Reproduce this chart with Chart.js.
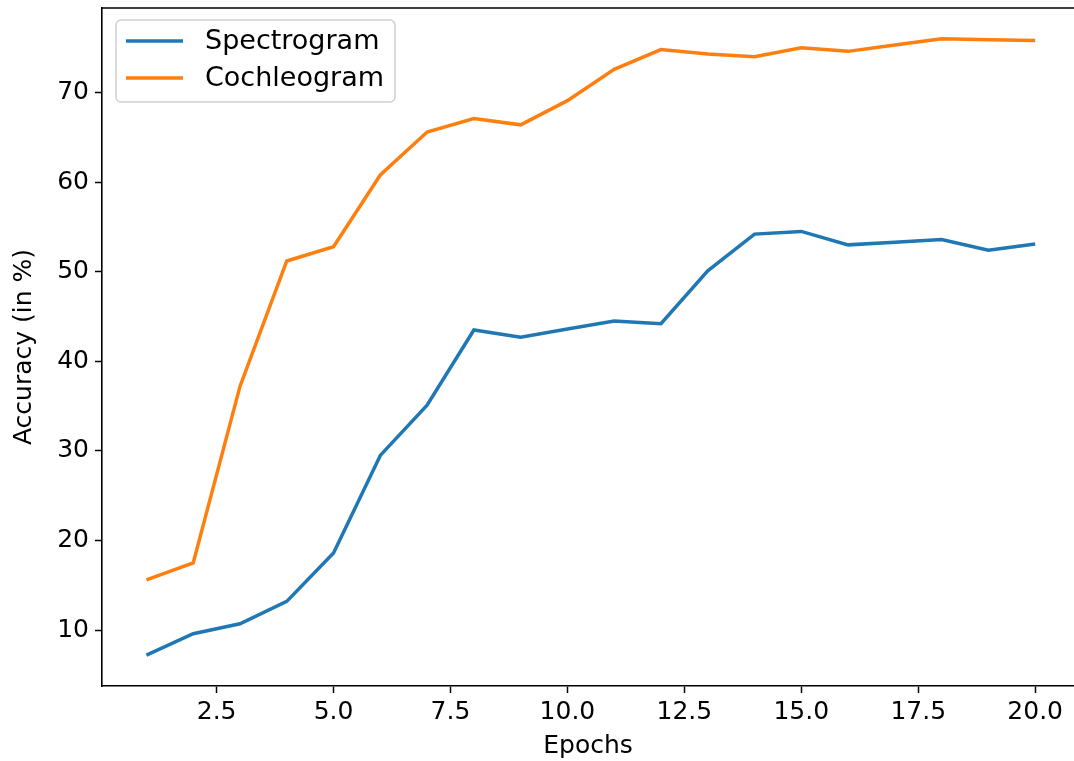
<!DOCTYPE html>
<html>
<head>
<meta charset="utf-8">
<script src="https://cdn.jsdelivr.net/npm/chart.js@4.4.1/dist/chart.umd.min.js"></script>
<style>
  html, body { margin: 0; padding: 0; background: #fff; overflow: hidden; }
</style>
</head>
<body>
<canvas id="accChart" width="1074" height="761"></canvas>
<script>
const epochs = [1, 2, 3, 4, 5, 6, 7, 8, 9, 10, 11, 12, 13, 14, 15, 16, 17, 18, 19, 20];
const spectrogram = [7.2, 9.6, 10.7, 13.2, 18.6, 29.5, 35.1, 43.5, 42.7, 43.6, 44.5, 44.2, 50.1, 54.2, 54.5, 53.0, 53.3, 53.6, 52.4, 53.1];
const cochleogram = [15.6, 17.5, 37.2, 51.2, 52.8, 60.8, 65.6, 67.1, 66.4, 69.1, 72.6, 74.8, 74.3, 74.0, 75.0, 74.6, 75.3, 76.0, 75.9, 75.8];
const xTicks = [2.5, 5.0, 7.5, 10.0, 12.5, 15.0, 17.5, 20.0];
const yTicks = [10, 20, 30, 40, 50, 60, 70];

const FONT = "'DejaVu Sans', sans-serif";

// top spine (the right one is cut off by the image edge)
const frame = {
  id: "frame",
  afterDatasetsDraw(chart) {
    const a = chart.chartArea;
    const ctx = chart.ctx;
    ctx.save();
    ctx.strokeStyle = "#000";
    ctx.lineWidth = 1.6;
    ctx.beginPath();
    ctx.moveTo(a.left, a.top);
    ctx.lineTo(chart.width, a.top);
    ctx.stroke();
    ctx.restore();
  },
};

// legend drawn inside the plot, upper left
const innerLegend = {
  id: "innerLegend",
  afterDraw(chart) {
    const a = chart.chartArea;
    const ctx = chart.ctx;
    const x = a.left + 14, y = a.top + 12, w = 279, h = 82, r = 5;
    ctx.save();
    ctx.fillStyle = "rgba(255,255,255,0.8)";
    ctx.strokeStyle = "#d0d0d0";
    ctx.lineWidth = 1.5;
    ctx.beginPath();
    ctx.roundRect(x, y, w, h, r);
    ctx.fill();
    ctx.stroke();
    ctx.font = "27px " + FONT;
    ctx.textBaseline = "middle";
    chart.data.datasets.forEach((ds, i) => {
      const ly = y + 21 + i * 37;
      ctx.strokeStyle = ds.borderColor;
      ctx.lineWidth = 3.5;
      ctx.beginPath();
      ctx.moveTo(x + 10, ly);
      ctx.lineTo(x + 67, ly);
      ctx.stroke();
      ctx.fillStyle = "#000";
      ctx.fillText(ds.label, x + 89, ly + 1);
    });
    ctx.restore();
  },
};

new Chart(document.getElementById("accChart"), {
  type: "line",
  data: {
    datasets: [
      {
        label: "Spectrogram",
        data: epochs.map((e, i) => ({ x: e, y: spectrogram[i] })),
        borderColor: "#1f77b4",
        borderWidth: 3.5,
        pointRadius: 0,
        tension: 0,
      },
      {
        label: "Cochleogram",
        data: epochs.map((e, i) => ({ x: e, y: cochleogram[i] })),
        borderColor: "#ff7f0e",
        borderWidth: 3.5,
        pointRadius: 0,
        tension: 0,
      },
    ],
  },
  options: {
    responsive: false,
    animation: false,
    layout: { padding: { top: 8, right: 0, left: 0, bottom: 0 } },
    plugins: {
      legend: { display: false },
      tooltip: { enabled: false },
    },
    scales: {
      x: {
        type: "linear",
        min: 0.05,
        max: 20.83,
        afterBuildTicks: (s) => { s.ticks = xTicks.map((v) => ({ value: v })); },
        afterFit: (s) => {
          s.height = 75;
          s.paddingLeft = 0;
          s.paddingRight = 0;
        },
        ticks: {
          color: "#000",
          font: { family: FONT, size: 25 },
          padding: 4,
          maxRotation: 0,
          callback: (v) => Number(v).toFixed(1),
        },
        grid: { drawOnChartArea: false, tickLength: 7, tickColor: "#000", tickWidth: 1.5 },
        border: { color: "#000", width: 1.6 },
        title: {
          display: true,
          text: "Epochs",
          color: "#000",
          font: { family: FONT, size: 25 },
          padding: { top: 0, bottom: 0 },
        },
      },
      y: {
        type: "linear",
        min: 3.76,
        max: 79.44,
        afterBuildTicks: (s) => { s.ticks = yTicks.map((v) => ({ value: v })); },
        afterFit: (s) => {
          s.width = 102;
          s.paddingTop = 0;
          s.paddingBottom = 0;
        },
        ticks: {
          color: "#000",
          font: { family: FONT, size: 25 },
          padding: 6,
        },
        grid: { drawOnChartArea: false, tickLength: 7, tickColor: "#000", tickWidth: 1.5 },
        border: { color: "#000", width: 1.6 },
        title: {
          display: true,
          text: "Accuracy (in %)",
          color: "#000",
          font: { family: FONT, size: 25 },
          padding: { top: 9, bottom: 0 },
        },
      },
    },
  },
  plugins: [frame, innerLegend],
});
</script>
</body>
</html>
